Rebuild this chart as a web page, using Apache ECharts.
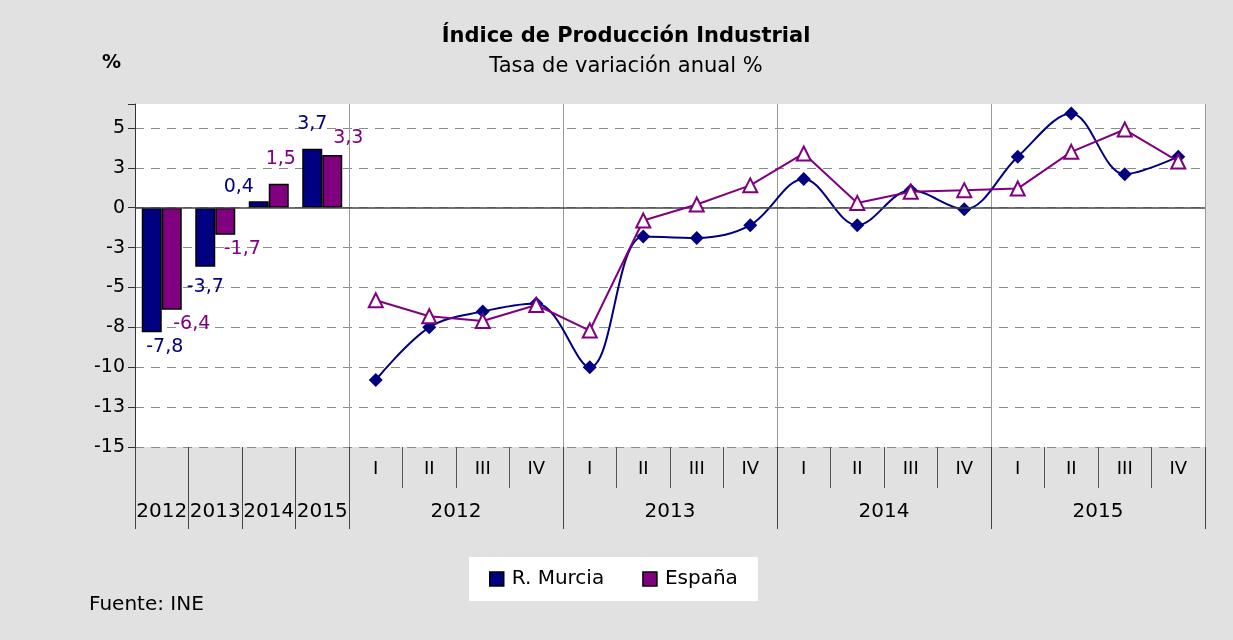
<!DOCTYPE html>
<html lang="es">
<head>
    <meta charset="UTF-8">
    <title>Índice de Producción Industrial</title>
    <script type="text/javascript" src="https://cdn.jsdelivr.net/npm/echarts@6/dist/echarts.min.js"></script>
    <style>
        body{
            padding: 0px;
            margin: 0px;
            background-color: #e1e1e1;
        }
        #chart{
            width: 1233px;
            height: 640px;
        }
    </style>
</head>
<body>
    <div id="chart"></div>
    <script>
    // datos anuales (barras)
    var annualYears = ['2012', '2013', '2014', '2015'];
    var murciaAnnual = [-7.8, -3.7, 0.4, 3.7];
    var espanaAnnual = [-6.4, -1.7, 1.5, 3.3];

    // datos trimestrales (lineas)
    var quarterNames = ['I', 'II', 'III', 'IV'];
    var quarterYears = ['2012', '2013', '2014', '2015'];
    var murciaQuarter = [-10.8, -7.5, -6.5, -6.0, -10.0, -1.8, -1.9, -1.1,
                         1.8, -1.1, 1.1, -0.1, 3.2, 5.9, 2.1, 3.2];
    var espanaQuarter = [-5.8, -6.8, -7.1, -6.1, -7.7, -0.8, 0.2, 1.4,
                         3.4, 0.3, 1.0, 1.1, 1.2, 3.5, 4.9, 2.9];

    // desplazamiento de etiquetas (como en la hoja original)
    var murciaLabelShift = [[13, 0], [0, 6], [-20, 0], [0, -10]];
    var espanaLabelShift = [[20, 0], [17, 0], [2, -10], [16, -2]];

    var NAVY = '#000080', PURPLE = '#800080';
    var FONT = 'DejaVu Sans';

    // eje principal: 4 años + 16 trimestres
    var cats = [], catLabels = [];
    annualYears.forEach(function (y) { cats.push('A' + y); catLabels.push(''); });
    quarterYears.forEach(function (y) {
        quarterNames.forEach(function (q) { cats.push(y + q); catLabels.push(q); });
    });

    // eje secundario (medias posiciones) para los años
    var half = [];
    for (var j = 0; j <= 40; j++) half.push('');
    annualYears.forEach(function (y, i) { half[2 * i + 1] = y; });
    quarterYears.forEach(function (y, i) { half[12 + 8 * i] = y; });
    var longTicks = [0, 2, 4, 6, 8, 16, 24, 32, 40];
    var yearLines = [8, 16, 24, 32, 40];

    var pad = function (arr, before, after) {
        var out = [];
        for (var i = 0; i < before; i++) out.push('-');
        out = out.concat(arr);
        for (var k = 0; k < after; k++) out.push('-');
        return out;
    };

    var barData = function (vals, shifts) {
        return pad(vals.map(function (v, i) {
            return {
                value: v,
                label: { position: v >= 0 ? 'top' : 'bottom', offset: shifts[i] }
            };
        }), 0, 16);
    };

    var excelRound = function (v) {
        return Math.sign(v) * Math.round(Math.abs(v));
    };

    var chart = echarts.init(document.getElementById('chart'), null, {renderer: 'canvas'});
    chart.setOption({
        backgroundColor: '#e1e1e1',
        animation: false,
        textStyle: { fontFamily: FONT },
        title: [
            { text: 'Índice de Producción Industrial', left: 621, top: 21, textAlign: 'center',
              textStyle: { fontFamily: FONT, fontSize: 21, fontWeight: 'bold', color: '#000' } },
            { text: 'Tasa de variación anual %', left: 621, top: 51, textAlign: 'center',
              textStyle: { fontFamily: FONT, fontSize: 21, fontWeight: 'normal', color: '#000' } },
            { text: '%', left: 97, top: 49,
              textStyle: { fontFamily: FONT, fontSize: 19, fontWeight: 'bold', color: '#000' } },
            { text: 'Fuente: INE', left: 84, top: 590,
              textStyle: { fontFamily: FONT, fontSize: 20, fontWeight: 'normal', color: '#000' } }
        ],
        legend: {
            data: ['R. Murcia', 'España'],
            left: 469, top: 557,
            backgroundColor: '#fff',
            padding: [12, 20, 12, 20],
            itemGap: 38,
            icon: 'rect',
            itemWidth: 14, itemHeight: 14,
            itemStyle: { borderColor: '#000', borderWidth: 1.5 },
            textStyle: { fontFamily: FONT, fontSize: 20, color: '#000', padding: [0, 0, 0, 3] }
        },
        grid: {
            left: 135, right: 28, top: 104, bottom: 193,
            show: true, backgroundColor: '#fff', borderWidth: 0
        },
        xAxis: [
            {
                type: 'category',
                data: cats,
                position: 'bottom',
                axisLine: { show: false, onZero: false },
                axisTick: { show: true, interval: 0, length: 41, lineStyle: { color: '#555' } },
                axisLabel: {
                    interval: 0, margin: 13,
                    formatter: function (v, i) { return catLabels[i]; },
                    fontFamily: FONT, fontSize: 18, color: '#000'
                },
                splitLine: { show: false }
            },
            {
                type: 'category',
                data: half,
                boundaryGap: false,
                position: 'bottom',
                axisLine: { show: false, onZero: false },
                axisTick: {
                    show: true, length: 82,
                    interval: function (i) { return longTicks.indexOf(i) >= 0; },
                    lineStyle: { color: '#444' }
                },
                axisLabel: {
                    margin: 55,
                    interval: function (i, v) { return v !== ''; },
                    fontFamily: FONT, fontSize: 20, color: '#000'
                },
                splitLine: {
                    show: true,
                    interval: function (i) { return yearLines.indexOf(i) >= 0; },
                    lineStyle: { color: '#9a9a9a', width: 1 }
                }
            }
        ],
        yAxis: {
            type: 'value',
            min: -15, max: 6.5, interval: 2.5,
            axisLine: { show: true, lineStyle: { color: '#333' } },
            axisTick: { show: true, length: 7, lineStyle: { color: '#333' } },
            axisLabel: {
                margin: 10,
                fontFamily: FONT, fontSize: 19, color: '#000',
                formatter: function (v) {
                    var r = v / 2.5;
                    if (Math.abs(r - Math.round(r)) > 1e-6) return '';
                    return String(excelRound(v));
                }
            },
            splitLine: {
                show: true, showMaxLine: false,
                lineStyle: { color: '#8c8c8c', type: [9, 7], width: 1.2 }
            }
        },
        series: [
            {
                name: 'R. Murcia',
                type: 'bar',
                xAxisIndex: 0,
                data: barData(murciaAnnual, murciaLabelShift),
                barWidth: 20,
                barGap: '0%',
                itemStyle: { color: NAVY, borderColor: '#000', borderWidth: 1.5 },
                label: {
                    show: true, color: NAVY, fontFamily: FONT, fontSize: 19,
                    formatter: function (p) { return String(p.value).replace('.', ','); }
                },
                markLine: {
                    silent: true, symbol: 'none',
                    label: { show: false },
                    lineStyle: { color: '#444', type: 'solid', width: 1.5 },
                    data: [{ yAxis: 0 }]
                },
                z: 3
            },
            {
                name: 'España',
                type: 'bar',
                xAxisIndex: 0,
                data: barData(espanaAnnual, espanaLabelShift),
                barWidth: 20,
                itemStyle: { color: PURPLE, borderColor: '#000', borderWidth: 1.5 },
                label: {
                    show: true, color: PURPLE, fontFamily: FONT, fontSize: 19,
                    formatter: function (p) { return String(p.value).replace('.', ','); }
                },
                z: 3
            },
            {
                name: 'R. Murcia',
                type: 'line',
                xAxisIndex: 0,
                data: pad(murciaQuarter, 4, 0),
                smooth: 0.35,
                symbol: 'diamond',
                symbolSize: 14,
                itemStyle: { color: NAVY },
                lineStyle: { color: NAVY, width: 2 },
                z: 4
            },
            {
                name: 'España',
                type: 'line',
                xAxisIndex: 0,
                data: pad(espanaQuarter, 4, 0),
                symbol: 'triangle',
                symbolSize: 14,
                itemStyle: { color: '#fff', borderColor: PURPLE, borderWidth: 2 },
                lineStyle: { color: PURPLE, width: 2 },
                z: 5
            }
        ]
    });
    </script>
</body>
</html>
